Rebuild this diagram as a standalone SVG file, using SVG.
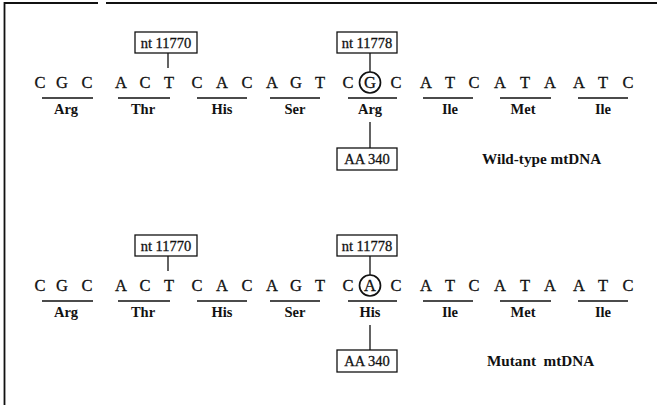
<svg xmlns="http://www.w3.org/2000/svg" width="657" height="405" viewBox="0 0 657 405">
  <style>
    .frame { fill: none; stroke: #111; stroke-width: 1.8; }
    .box rect { fill: #fff; stroke: #111; stroke-width: 1.3; }
    .box text { font-family: "Liberation Serif", serif; font-size: 14.5px; fill: #111; stroke: #111; stroke-width: 0.3; text-anchor: middle; }
    .base { font-family: "Liberation Serif", serif; font-size: 16.5px; fill: #111; stroke: #111; stroke-width: 0.3; text-anchor: middle; }
    .aa { font-family: "Liberation Serif", serif; font-size: 14.5px; font-weight: bold; fill: #111; text-anchor: middle; }
    .title { font-family: "Liberation Serif", serif; font-size: 15.2px; font-weight: bold; fill: #111; white-space: pre; }
    .rule { stroke: #111; stroke-width: 1.3; fill: none; }
    .ring { stroke: #111; stroke-width: 1.7; fill: none; }
  </style>
  <defs>
    <!-- one codon row: bases, codon underlines and amino-acid names -->
    <g id="bases">
      <text class="base" x="40" y="88">C</text><text class="base" x="62" y="88">G</text><text class="base" x="87" y="88">C</text>
      <text class="base" x="121" y="88">A</text><text class="base" x="145" y="88">C</text><text class="base" x="169" y="88">T</text>
      <text class="base" x="197" y="88">C</text><text class="base" x="222" y="88">A</text><text class="base" x="247" y="88">C</text>
      <text class="base" x="272" y="88">A</text><text class="base" x="296" y="88">G</text><text class="base" x="320" y="88">T</text>
      <text class="base" x="348" y="88">C</text><text class="base" x="396" y="88">C</text>
      <text class="base" x="426" y="88">A</text><text class="base" x="450" y="88">T</text><text class="base" x="474" y="88">C</text>
      <text class="base" x="500" y="88">A</text><text class="base" x="525" y="88">T</text><text class="base" x="550" y="88">A</text>
      <text class="base" x="579" y="88">A</text><text class="base" x="603" y="88">T</text><text class="base" x="628" y="88">C</text>
      <path class="rule" d="M42,98H93M118,98H170M197,98H247M270,98H320M348,98H397M423,98H473M500,98H551M578,98H628"/>
      <text class="aa" x="66" y="114">Arg</text>
      <text class="aa" x="143" y="114">Thr</text>
      <text class="aa" x="222" y="114">His</text>
      <text class="aa" x="295" y="114">Ser</text>
      <text class="aa" x="450" y="114">Ile</text>
      <text class="aa" x="523" y="114">Met</text>
      <text class="aa" x="603" y="114">Ile</text>
    </g>
  </defs>

  <!-- open frame -->
  <path class="frame" d="M4.5,405V3H98M106,3H657"/>

  <!-- wild-type sequence -->
  <g id="wildtype-sequence">
    <use href="#bases"/>
    <text class="base" x="370" y="88">G</text>
    <circle class="ring" cx="370" cy="82.5" r="10.5"/>
    <text class="aa" x="370" y="114">Arg</text>
  </g>

  <!-- mutant sequence -->
  <g id="mutant-sequence">
    <use href="#bases" transform="translate(0,203)"/>
    <text class="base" x="370" y="291">A</text>
    <circle class="ring" cx="370" cy="285.5" r="10.5"/>
    <text class="aa" x="370" y="317">His</text>
  </g>

  <!-- connectors -->
  <g id="connectors">
    <path class="rule" d="M168,53V68M370,53V72M370,122V148"/>
    <path class="rule" d="M168,256V271M370,256V275M370,325V350"/>
  </g>

  <g id="wt-nt11770" class="box">
    <rect x="135" y="32" width="62" height="21"/>
    <text x="166" y="47.5">nt 11770</text>
  </g>
  <g id="wt-nt11778" class="box">
    <rect x="337" y="32" width="60" height="21"/>
    <text x="367" y="47.5">nt 11778</text>
  </g>
  <g id="wt-aa340" class="box">
    <rect x="337" y="148" width="60" height="22"/>
    <text x="367" y="164">AA 340</text>
  </g>
  <text id="wt-title" class="title" x="482" y="164">Wild-type mtDNA</text>

  <g id="mut-nt11770" class="box">
    <rect x="135" y="235" width="62" height="21"/>
    <text x="166" y="250.5">nt 11770</text>
  </g>
  <g id="mut-nt11778" class="box">
    <rect x="337" y="235" width="60" height="21"/>
    <text x="367" y="250.5">nt 11778</text>
  </g>
  <g id="mut-aa340" class="box">
    <rect x="337" y="350" width="60" height="22"/>
    <text x="367" y="366">AA 340</text>
  </g>
  <text id="mut-title" class="title" x="487" y="366">Mutant  mtDNA</text>
</svg>
